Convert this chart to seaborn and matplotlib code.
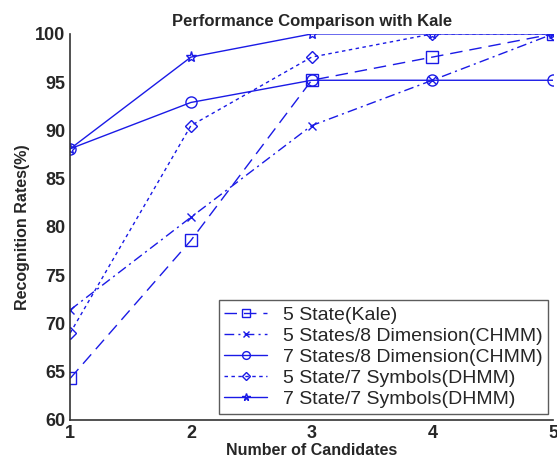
import numpy as np
import pandas as pd
import matplotlib
matplotlib.use("Agg")
import matplotlib.pyplot as plt
import seaborn as sns

# Data
candidates = [1, 2, 3, 4, 5]
kale_5state = [64.3, 78.6, 95.2, 97.6, 100.0]
chmm_5state = [71.4, 81.0, 90.5, 95.2, 100.0]
chmm_7state = [88.1, 92.9, 95.2, 95.2, 95.2]
dhmm_5state = [69.0, 90.5, 97.6, 100.0, 100.0]
dhmm_7state = [88.1, 97.6, 100.0, 100.0, 100.0]

labels = [
    "5 State(Kale)",
    "5 States/8 Dimension(CHMM)",
    "7 States/8 Dimension(CHMM)",
    "5 State/7 Symbols(DHMM)",
    "7 State/7 Symbols(DHMM)",
]
series = [kale_5state, chmm_5state, chmm_7state, dhmm_5state, dhmm_7state]

sns.set_style("white")
plt.rcParams['font.family'] = ['Liberation Sans', 'DejaVu Sans']

fig = plt.figure(figsize=(5.57, 4.65), dpi=100)
ax = fig.add_axes([0.126, 0.097, 0.867, 0.830])

blue = "#1a1ae6"
styles = [
    dict(linestyle=(0, (9, 5)), marker="s", markersize=8),
    dict(linestyle=(0, (7, 3, 1.5, 3)), marker="x", markersize=6),
    dict(linestyle="-", marker="o", markersize=8),
    dict(linestyle=(0, (2.5, 2.5)), marker="D", markersize=6),
    dict(linestyle="-", marker="*", markersize=8),
]

for lab, vals, st in zip(labels, series, styles):
    df = pd.DataFrame({"x": candidates, "y": vals})
    sns.lineplot(data=df, x="x", y="y", ax=ax, color=blue, linewidth=1,
                 label=lab, markerfacecolor="none", markeredgecolor=blue,
                 markeredgewidth=1, **st)

ax.set_xlim(1, 5)
ax.set_ylim(60, 100)
ax.set_xticks(candidates)
ax.set_yticks(np.arange(60, 101, 5))
ax.tick_params(direction="in", length=4, labelsize=13, width=1, color="#333333")
for lbl in ax.get_xticklabels() + ax.get_yticklabels():
    lbl.set_fontweight("bold")

for side in ["top", "right"]:
    ax.spines[side].set_visible(False)
for side in ["left", "bottom"]:
    ax.spines[side].set_color("#333333")
    ax.spines[side].set_linewidth(1.2)

ax.set_xlabel("Number of Candidates", fontsize=11.5, fontweight="bold", labelpad=1)
ax.set_ylabel("Recognition Rates(%)", fontsize=11.5, fontweight="bold", labelpad=4)
ax.set_title("Performance Comparison with Kale", fontsize=12, fontweight="bold", pad=6)

leg = ax.legend(loc="lower right", fontsize=14, frameon=True, fancybox=False,
                edgecolor="#333333", handlelength=2.2, borderpad=0.3,
                labelspacing=0.18, handletextpad=0.8, markerscale=0.7,
                bbox_to_anchor=(0.99, 0.015), borderaxespad=0)
leg.get_frame().set_linewidth(1.0)

fig.savefig("out.png", dpi=100)
